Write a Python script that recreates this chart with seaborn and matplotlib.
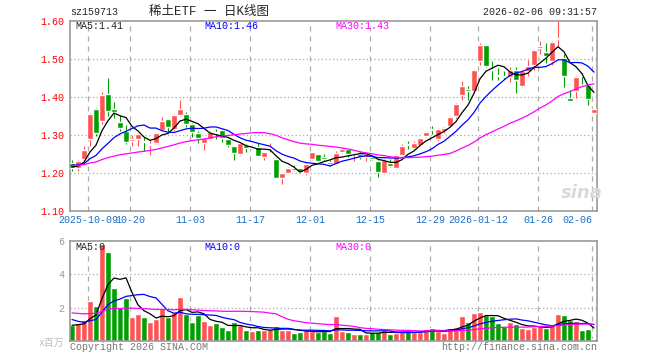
import numpy as np
import pandas as pd
import matplotlib
matplotlib.use('Agg')
import matplotlib.pyplot as plt
import seaborn as sns

# daily candles, 2025-09-26 .. 2026-02-06
opens = [1.226, 1.212, 1.236, 1.290, 1.368, 1.338, 1.407, 1.368, 1.335, 1.311,
         1.285, 1.289, 1.283, 1.274, 1.278, 1.313, 1.342, 1.316, 1.353, 1.355,
         1.328, 1.304, 1.278, 1.289, 1.308, 1.313, 1.289, 1.271, 1.249, 1.274,
         1.265, 1.269, 1.243, 1.266, 1.237, 1.188, 1.201, 1.214, 1.212, 1.199,
         1.236, 1.249, 1.240, 1.230, 1.225, 1.256, 1.262, 1.248, 1.251, 1.241,
         1.241, 1.232, 1.199, 1.227, 1.214, 1.248, 1.275, 1.265, 1.274, 1.298,
         1.316, 1.289, 1.310, 1.323, 1.349, 1.404, 1.420, 1.415, 1.496, 1.536,
         1.472, 1.458, 1.456, 1.453, 1.470, 1.428, 1.468, 1.485, 1.530, 1.518,
         1.494, 1.552, 1.503, 1.397, 1.415, 1.457, 1.432, 1.358]
closes = [1.214, 1.232, 1.260, 1.355, 1.305, 1.405, 1.363, 1.361, 1.319, 1.282,
          1.289, 1.302, 1.281, 1.276, 1.304, 1.338, 1.321, 1.353, 1.368, 1.328,
          1.309, 1.291, 1.291, 1.307, 1.306, 1.291, 1.274, 1.252, 1.278, 1.265,
          1.272, 1.246, 1.254, 1.268, 1.188, 1.199, 1.214, 1.208, 1.203, 1.223,
          1.254, 1.232, 1.238, 1.225, 1.252, 1.262, 1.249, 1.251, 1.241, 1.250,
          1.236, 1.202, 1.234, 1.219, 1.248, 1.272, 1.273, 1.278, 1.291, 1.307,
          1.314, 1.316, 1.318, 1.347, 1.382, 1.430, 1.417, 1.472, 1.538, 1.482,
          1.470, 1.456, 1.452, 1.470, 1.444, 1.468, 1.481, 1.523, 1.532, 1.507,
          1.546, 1.554, 1.456, 1.389, 1.453, 1.455, 1.395, 1.368]
highs = [1.234, 1.234, 1.271, 1.358, 1.370, 1.413, 1.451, 1.388, 1.352, 1.326,
         1.300, 1.305, 1.294, 1.287, 1.306, 1.348, 1.343, 1.355, 1.392, 1.360,
         1.332, 1.310, 1.293, 1.311, 1.315, 1.315, 1.291, 1.272, 1.280, 1.276,
         1.275, 1.280, 1.256, 1.280, 1.240, 1.200, 1.216, 1.221, 1.214, 1.225,
         1.256, 1.250, 1.249, 1.234, 1.257, 1.269, 1.264, 1.252, 1.257, 1.252,
         1.243, 1.233, 1.236, 1.238, 1.250, 1.276, 1.283, 1.283, 1.293, 1.310,
         1.325, 1.318, 1.322, 1.350, 1.385, 1.441, 1.428, 1.474, 1.542, 1.537,
         1.496, 1.476, 1.468, 1.480, 1.480, 1.470, 1.498, 1.525, 1.547, 1.542,
         1.548, 1.604, 1.512, 1.419, 1.455, 1.462, 1.435, 1.369]
lows = [1.206, 1.205, 1.232, 1.272, 1.298, 1.330, 1.350, 1.345, 1.310, 1.276,
        1.270, 1.272, 1.259, 1.247, 1.276, 1.310, 1.307, 1.310, 1.350, 1.320,
        1.296, 1.278, 1.260, 1.287, 1.290, 1.282, 1.268, 1.234, 1.247, 1.254,
        1.263, 1.244, 1.234, 1.255, 1.186, 1.170, 1.199, 1.205, 1.200, 1.196,
        1.234, 1.230, 1.232, 1.218, 1.222, 1.252, 1.243, 1.231, 1.236, 1.231,
        1.233, 1.190, 1.198, 1.217, 1.210, 1.244, 1.262, 1.262, 1.272, 1.295,
        1.302, 1.285, 1.305, 1.320, 1.345, 1.391, 1.393, 1.411, 1.485, 1.479,
        1.446, 1.444, 1.447, 1.440, 1.410, 1.426, 1.456, 1.470, 1.512, 1.490,
        1.485, 1.535, 1.427, 1.389, 1.397, 1.433, 1.378, 1.357]
# volume, millions
volumes = [0.94, 1.10, 1.24, 2.43, 2.13, 5.83, 5.33, 3.17, 2.04, 2.57,
           1.44, 1.60, 1.42, 1.14, 1.30, 1.98, 1.44, 1.74, 2.63, 1.64,
           1.14, 1.58, 1.18, 0.94, 1.08, 0.84, 0.64, 1.14, 0.98, 0.64,
           0.58, 0.64, 0.64, 0.74, 0.88, 0.68, 0.68, 0.48, 0.52, 0.64,
           0.58, 0.54, 0.58, 0.50, 1.50, 0.62, 0.54, 0.42, 0.42, 0.42,
           0.54, 0.54, 0.68, 0.42, 0.50, 0.54, 0.58, 0.54, 0.54, 0.70,
           0.78, 0.62, 0.48, 0.78, 0.84, 1.50, 1.14, 1.68, 1.74, 1.58,
           1.50, 1.08, 0.90, 1.14, 1.00, 0.80, 0.70, 0.84, 0.94, 0.78,
           1.00, 1.62, 1.54, 1.24, 1.18, 0.64, 0.74, 0.10]

# sessions before the first shown candle (only feed the moving averages)
pre_close = [1.22, 1.21, 1.23, 1.22, 1.21, 1.22, 1.23, 1.22, 1.21, 1.22,
             1.23, 1.22, 1.21, 1.22, 1.22, 1.21, 1.22, 1.23, 1.22, 1.22,
             1.23, 1.23, 1.22, 1.22, 1.23, 1.22, 1.21, 1.22, 1.216]
pre_vol = [1.9, 2.1, 1.7, 1.8, 2.2, 1.6, 1.9, 2.0, 1.8, 1.7,
           2.1, 1.9, 1.8, 2.0, 1.7, 1.9, 2.2, 1.8, 1.6, 1.9,
           2.2, 1.8, 1.5, 1.4, 1.3, 0.9, 1.0, 0.9, 0.96]

tick_idx = [3, 10, 20, 30, 40, 50, 60, 68, 78, 87]
tick_labels = ['2025-10-09', '10-20', '11-03', '11-17', '12-01', '12-15',
               '12-29', '2026-01-12', '01-26', '02-06']

RED, GREEN = '#ff5252', '#00a000'
GRID = '#aaaaaa'

sns.set_style('white')
plt.rcParams['font.family'] = ['Liberation Mono', 'Noto Sans CJK SC', 'DejaVu Sans']

n = len(closes)
idx = np.arange(n)
o, c = np.array(opens), np.array(closes)
colors = np.where(c >= o, RED, GREEN)


def moving(pre, vals, w):
    s = pd.Series(pre + vals).rolling(w).mean()
    return s.iloc[len(pre):].to_numpy()


df = pd.DataFrame({'idx': idx})
for w in (5, 10, 30):
    df[f'p{w}'] = moving(pre_close, closes, w)
    df[f'v{w}'] = moving(pre_vol, volumes, w)

W, H = 660, 360
fig = plt.figure(figsize=(6.6, 3.6), dpi=100)
ax = fig.add_axes([70 / W, 1 - 211 / H, 527 / W, 190 / H])
axv = fig.add_axes([70 / W, 1 - 341 / H, 527 / W, 100 / H])

grid_x = np.array(tick_idx) - 1 / 3
for a in (ax, axv):
    for gx in grid_x:
        a.axvline(gx, color=GRID, lw=0.9, ls=(0, (4, 4)), zorder=0)
    for sp in a.spines.values():
        sp.set_color('#999999')
        sp.set_linewidth(1.2)
    a.set_xlim(-1 / 3, 87.5)
for gy in (1.2, 1.3, 1.4, 1.5):
    ax.axhline(gy, color=GRID, lw=0.9, ls=(0, (1, 2)), zorder=0)
for gy in (2, 4):
    axv.axhline(gy, color=GRID, lw=0.9, ls=(0, (1, 2)), zorder=0)

# candles
ax.vlines(idx, lows, highs, colors=colors, lw=0.8, zorder=2)
ax.bar(idx, np.maximum(np.abs(c - o), 0.003), bottom=np.minimum(o, c),
       width=0.85, color=colors, zorder=3)
for col, clr in (('p5', 'black'), ('p10', '#0000ff'), ('p30', '#ff00ff')):
    sns.lineplot(data=df, x='idx', y=col, color=clr, lw=0.9, ax=ax, legend=False, zorder=4)

axv.bar(idx, volumes, width=0.85, color=colors, zorder=2)
for col, clr in (('v5', 'black'), ('v10', '#0000ff'), ('v30', '#ff00ff')):
    sns.lineplot(data=df, x='idx', y=col, color=clr, lw=0.9, ax=axv, legend=False, zorder=4)

ax.set_ylim(1.10, 1.60)
ax.set_yticks([1.1, 1.2, 1.3, 1.4, 1.5, 1.6])
ax.set_yticklabels([f'{v:.2f}' for v in [1.1, 1.2, 1.3, 1.4, 1.5, 1.6]], color='#ff0000')
ax.set_xticks(grid_x)
ax.set_xticklabels(tick_labels, color='#1a6fc8')
ax.get_xticklabels()[-1].set_ha('right')
ax.tick_params(length=0, pad=4, labelsize=7.2)
ax.tick_params(axis='x', pad=3)
ax.set_xlabel('')
ax.set_ylabel('')

axv.set_ylim(0, 6)
axv.set_yticks([2, 4, 6])
axv.set_yticklabels(['2', '4', '6'], color='#999999')
axv.set_xticks([])
axv.tick_params(length=0, pad=4, labelsize=7.2)
axv.set_xlabel('')
axv.set_ylabel('')


def ftext(x, y, s, **kw):
    kw.setdefault('fontsize', 7.2)
    kw.setdefault('va', 'center')
    fig.text(x / W, 1 - y / H, s, **kw)


ftext(70, 12, 'sz159713')
ftext(209, 12, '稀土ETF 一 日K线图', ha='center', fontsize=9)
ftext(597, 12, '2026-02-06 09:31:57', ha='right')
ftext(75, 26, 'MA5:1.41')
ftext(204, 26, 'MA10:1.46', color='#0000ff')
ftext(335, 26, 'MA30:1.43', color='#ff00ff')
ftext(75, 247, 'MA5:0')
ftext(204, 247, 'MA10:0', color='#0000ff')
ftext(335, 247, 'MA30:0', color='#ff00ff')
ftext(64, 343, 'x百万', ha='right', color='#bbbbbb', fontsize=7)
ftext(70, 347, 'Copyright 2026 SINA.COM', color='#777777')
ftext(597, 347, 'http://finance.sina.com.cn', ha='right', color='#777777')
ftext(582, 193, 'sina', ha='center', fontsize=13, style='italic', weight='bold',
      color='#d9d9d9', family='DejaVu Sans')

fig.savefig('out.png', dpi=100)
